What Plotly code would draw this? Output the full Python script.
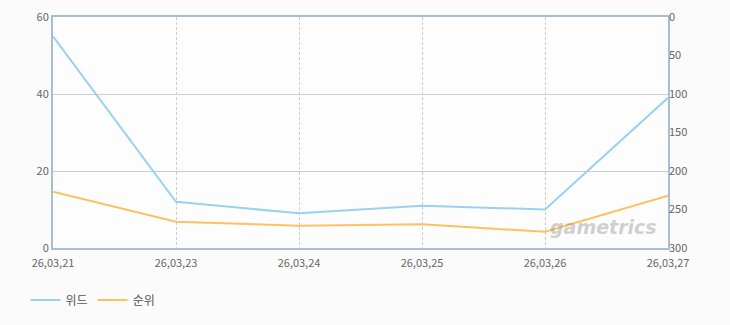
import plotly.graph_objects as go

dates = ["26,03,21", "26,03,23", "26,03,24", "26,03,25", "26,03,26", "26,03,27"]
wid_values = [55, 12, 9, 11, 10, 39]
rank_values = [227, 266, 271, 269, 279, 232]

font_family = "Noto Sans CJK KR, DejaVu Sans, sans-serif"
blue = "#98d2f0"
orange = "#fdc062"

fig = go.Figure()
fig.add_trace(go.Scatter(x=dates, y=wid_values, name="위드", mode="lines",
                         line=dict(color=blue, width=2), yaxis="y"))
fig.add_trace(go.Scatter(x=dates, y=rank_values, name="순위", mode="lines",
                         line=dict(color=orange, width=2), yaxis="y2"))

fig.update_layout(
    width=730, height=325,
    margin=dict(l=53, r=62, t=17, b=77, autoexpand=False),
    paper_bgcolor="#fbfbfb",
    plot_bgcolor="#fdfdfd",
    font=dict(family=font_family, size=11, color="#666666"),
    showlegend=True,
    legend=dict(orientation="h", x=0.035, y=0.077, xref="container", yref="container",
                xanchor="left", yanchor="middle",
                font=dict(size=12, color="#555555"), itemwidth=30, bgcolor="rgba(0,0,0,0)"),
    xaxis=dict(type="category", range=[0, 5], showgrid=True, gridcolor="#cccccc",
               griddash="3px,2px", gridwidth=1, showline=True, linecolor="#a9bed3", linewidth=2,
               mirror=True, ticks="", ticklabelstandoff=4,
               tickfont=dict(size=11, color="#666666"), zeroline=False),
    yaxis=dict(range=[0, 60], tickvals=[0, 20, 40, 60], showgrid=True, gridcolor="#cccccc",
               gridwidth=1, showline=True, linecolor="#a9bed3", linewidth=2, mirror=True,
               ticks="", zeroline=False, tickfont=dict(size=11, color="#666666")),
    yaxis2=dict(range=[300, 0], tickvals=[0, 50, 100, 150, 200, 250, 300], overlaying="y",
                side="right", showgrid=False, showline=False, ticks="", zeroline=False,
                tickfont=dict(size=11, color="#666666")),
)

fig.add_annotation(text="<b><i>gametrics</i></b>", xref="paper", yref="paper",
                   x=0.985, y=0.09, xanchor="right", yanchor="middle", showarrow=False,
                   font=dict(size=19, color="rgba(150,150,150,0.45)", family="DejaVu Sans, sans-serif"))

fig.write_html("out.html")
